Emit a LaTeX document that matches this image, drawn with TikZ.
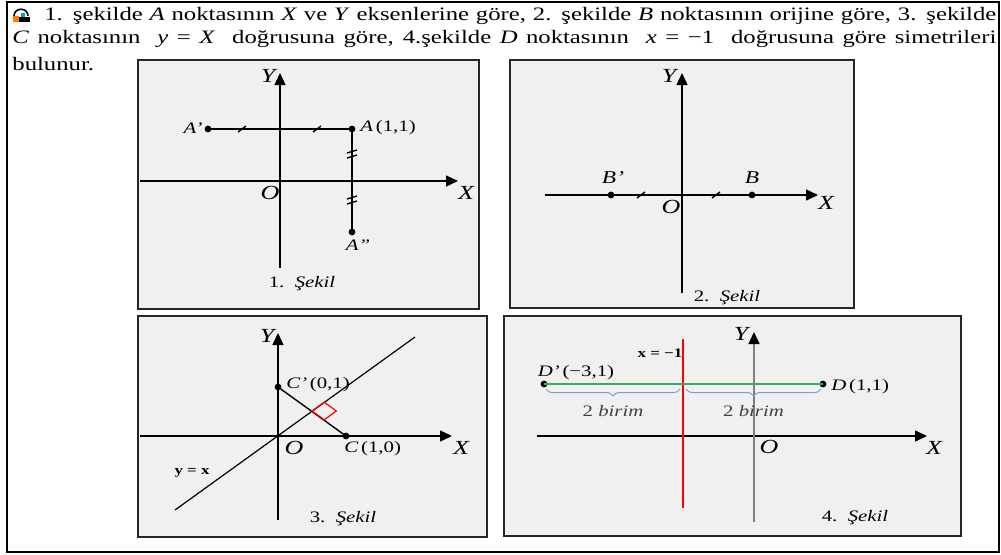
\documentclass[tikz,border=0pt]{standalone}
\usepackage{fontspec}
\setmainfont[FakeStretch=1.3]{Liberation Serif}
\usetikzlibrary{arrows.meta,decorations.pathreplacing}
\definecolor{bracecol}{RGB}{120,160,215}
\definecolor{linegreen}{RGB}{60,170,95}
\newcommand{\sekil}[1]{#1.\ \ \textit{Şekil}}
\tikzset{
  panel/.style={draw=black!85, line width=0.8pt, fill=black!6},
  axis/.style={-{Triangle[length=6pt,width=5.5pt]}, line width=0.75pt},
  seg/.style={line width=0.7pt},
  dot/.style={circle, fill=black, inner sep=0pt, minimum size=3.4pt},
  axlabel/.style={font=\fontsize{10}{12}\selectfont\itshape, inner sep=0pt},
  ptlabel/.style={font=\fontsize{8}{10}\selectfont, inner sep=0pt},
  caption/.style={font=\fontsize{8}{10}\selectfont, inner sep=0pt},
  eqlabel/.style={font=\fontsize{6.5}{8}\selectfont\bfseries, inner sep=0pt},
  headline/.style={anchor=base west, inner sep=0pt, font=\fontsize{9.5}{11}\selectfont},
  tick/.style={line width=0.7pt},
  brc/.style={decorate, decoration={brace, amplitude=3.5pt, mirror}, draw=bracecol, line width=0.5pt}
}
\begin{document}
\begin{tikzpicture}[x=0.5pt,y=-0.5pt]
  \useasboundingbox (0,0) rectangle (1001,554);
  \draw[line width=0.7pt] (7,2) rectangle (999,552);

  % icon
  \fill[orange] (13,16) rectangle (19,22);
  \fill[black] (19,17) rectangle (30,22);
  \fill[cyan!60!green] (21,13) rectangle (25,17);
  \draw[line width=0.8pt] (14,16) .. controls (14,7) and (28,7) .. (28,16);

  \node[headline] (line1) at (44,20) {\makebox[476pt][s]{1. şekilde \textit{A} noktasının \textit{X} ve \textit{Y} eksenlerine göre, 2. şekilde \textit{B} noktasının orijine göre, 3. şekilde}};
  \node[headline] (line2) at (12,43) {\makebox[492pt][s]{\textit{C} noktasının \ \textit{y} = \textit{X} \ doğrusuna göre, 4.şekilde \textit{D} noktasının \ \textit{x} = −1 \ doğrusuna göre simetrileri}};
  \node[headline] (line3) at (12,70) {bulunur.};

  \draw[panel] (138,60) rectangle (479,309);
  \draw[panel] (510,60) rectangle (854,308);
  \draw[panel] (138,316) rectangle (487,537);
  \draw[panel] (504,316) rectangle (961,536);

  % 1. sekil
  \draw[axis] (140,181) -- (458,181);
  \draw[axis] (280,268) -- (280,73);
  \node[axlabel] (x1) at (466,193) {X};
  \node[axlabel] (y1) at (268,76) {Y};
  \node[axlabel] (o1) at (270,193) {O};
  \node[dot] (A) at (352,129) {};
  \node[dot] (Ap) at (208,129) {};
  \node[dot] (App) at (352,232) {};
  \draw[seg] (Ap.center) -- (A.center) -- (App.center);
  \foreach \x in {242,317}
    {\draw[tick] (\x-4,132) -- (\x+4,126);}
  \foreach \y in {154,200}
    {\draw[tick] (347,\y-1) -- (357,\y-4);
     \draw[tick] (347,\y+4) -- (357,\y+1);}
  \node[ptlabel, anchor=east] at (203,128) {\textit{A'}};
  \node[ptlabel, anchor=west] at (360,128) {\textit{A}\,(1,1)};
  \node[ptlabel] at (358,245) {\textit{A''}};
  \node[caption] at (302,284) {\sekil{1}};

  % 2. sekil
  \draw[axis] (545,195) -- (818,195);
  \draw[axis] (682,293) -- (682,73);
  \node[axlabel] (x2) at (826,203) {X};
  \node[axlabel] (y2) at (669,76) {Y};
  \node[axlabel] (o2) at (671,207) {O};
  \node[dot] (B) at (752,195) {};
  \node[dot] (Bp) at (611,195) {};
  \foreach \x in {641,716}
    {\draw[tick] (\x-4,198) -- (\x+4,192);}
  \node[axlabel, font=\fontsize{9}{11}\selectfont\itshape] at (752,178) {B};
  \node[axlabel, font=\fontsize{9}{11}\selectfont\itshape] at (613,178) {B'};
  \node[caption] at (727,298) {\sekil{2}};

  % 3. sekil
  \draw[axis] (140,436) -- (452,436);
  \draw[axis] (278,520) -- (278,333);
  \node[axlabel] (x3) at (461,448) {X};
  \node[axlabel] (y3) at (267,336) {Y};
  \node[axlabel] (o3) at (294,448) {O};
  \coordinate (L1) at (175,510);
  \coordinate (L2) at (415,337);
  \draw[line width=0.6pt] (L1) -- (L2);
  \node[dot] (Cp) at (278,387) {};
  \node[dot] (C) at (346,436) {};
  \draw[seg] (Cp.center) -- (C.center);
  \draw[red, line width=0.6pt] (312,411) -- ++(12.2,-8.8) -- ++(12.2,8.8) -- ++(-12.2,8.8) -- cycle;
  \node[ptlabel, anchor=west] at (286,385) {\textit{C'}\,(0,1)};
  \node[ptlabel, anchor=west] at (344,449) {\textit{C}\,(1,0)};
  \node[eqlabel] at (192,473) {y = x};
  \node[caption] at (343,519) {\sekil{3}};

  % 4. sekil
  \draw[axis] (537,436) -- (927,436);
  \draw[axis, draw=gray, -{Triangle[length=6pt,width=5.5pt,color=black]}] (754,522) -- (754,332);
  \node[axlabel] (x4) at (934,448) {X};
  \node[axlabel] (y4) at (741,334) {Y};
  \node[axlabel] (o4) at (769,447) {O};
  \draw[red, line width=0.6pt] (683,339) -- (683,508);
  \node[eqlabel] at (660,353) {x = −1};
  \node[dot] (Dp) at (544,384) {};
  \node[dot] (D) at (823,384) {};
  \draw[linegreen, line width=0.7pt] (Dp.center) -- (D.center);
  \draw[brc] (546,389) -- (680,389) node[midway, below=8pt, text=black!75, ptlabel] {2 \textit{birim}};
  \draw[brc] (686,389) -- (821,389) node[midway, below=8pt, text=black!75, ptlabel] {2 \textit{birim}};
  \node[ptlabel] at (576,373) {\textit{D'}\,(−3,1)};
  \node[ptlabel, anchor=west] at (831,387) {\textit{D}\,(1,1)};
  \node[caption] at (855,518) {\sekil{4}};
\end{tikzpicture}
\end{document}
